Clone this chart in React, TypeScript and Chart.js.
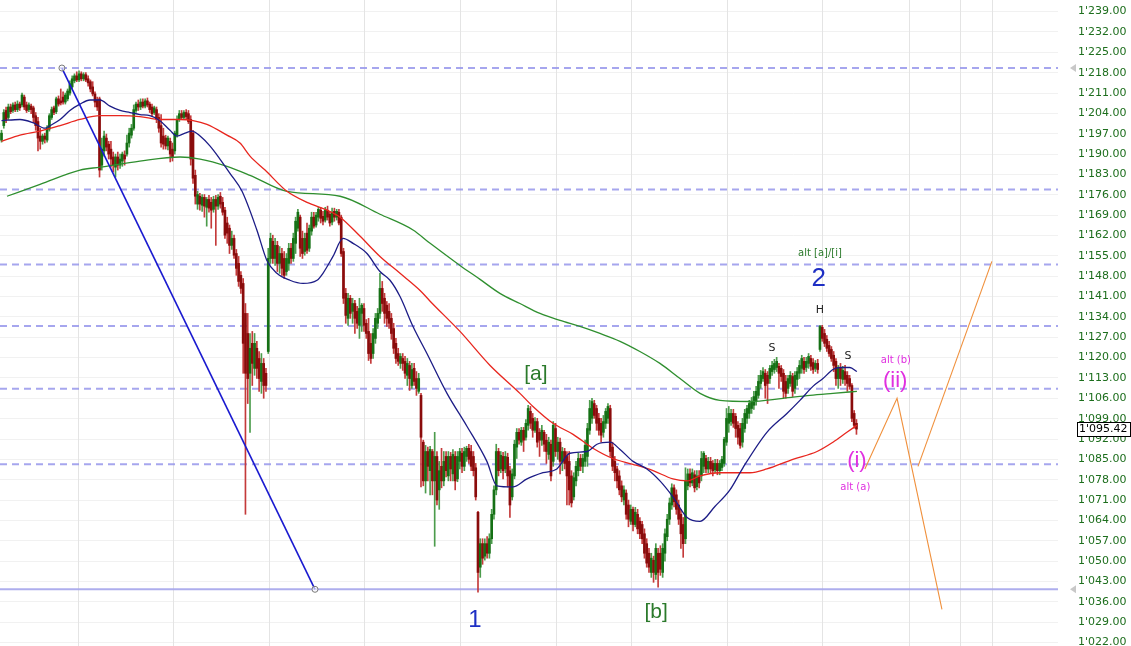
import React, { useEffect, useRef } from "react";
import { Chart, registerables } from "chart.js";
Chart.register(...registerables);

// ---------- DATA ----------
const OPEN = [
1194.8,1199.8,1205.0,1202.6,1206.2,1205.0,1206.9,1205.3,1207.2,1206.9,
1209.6,1206.9,1205.3,1206.5,1205.9,1203.2,1201.2,1196.2,1194.4,1196.2,
1194.8,1198.6,1202.6,1205.9,1204.6,1209.0,1208.3,1209.6,1207.9,1209.0,
1211.0,1213.1,1215.2,1216.9,1215.5,1217.6,1215.9,1217.3,1215.9,1214.9,
1213.1,1210.7,1208.6,1209.0,1186.2,1191.1,1195.5,1193.4,1191.7,1189.0,
1185.5,1189.0,1186.2,1187.6,1189.7,1190.0,1193.8,1196.5,1198.9,1205.0,
1207.2,1206.2,1207.9,1206.5,1208.3,1207.2,1206.2,1204.3,1205.3,1202.6,
1199.8,1196.2,1195.5,1192.8,1194.4,1191.7,1191.1,1196.5,1201.9,1203.9,
1202.6,1204.3,1203.9,1201.9,1197.2,1182.7,1172.8,1175.5,1172.4,1175.1,
1171.7,1174.4,1173.4,1171.0,1174.4,1172.1,1175.5,1173.4,1170.7,1166.3,
1164.5,1158.6,1161.0,1155.8,1152.4,1148.3,1145.5,1135.2,1128.3,1114.6,
1124.9,1116.3,1123.2,1119.7,1111.8,1118.0,1114.6,1122.1,1154.1,1160.0,
1154.1,1158.6,1152.4,1155.8,1154.1,1149.6,1152.4,1157.6,1154.1,1159.3,
1164.5,1168.3,1161.0,1156.5,1162.8,1157.6,1163.5,1168.3,1165.6,1168.3,
1170.7,1168.6,1167.3,1170.7,1169.3,1166.6,1170.3,1168.3,1170.0,1168.3,
1156.5,1142.1,1133.5,1140.4,1135.9,1138.6,1135.9,1131.1,1135.2,1136.9,
1131.8,1129.0,1124.9,1121.4,1126.6,1131.8,1135.2,1143.8,1140.4,1138.0,
1135.9,1133.5,1130.0,1124.9,1121.4,1118.0,1119.7,1118.7,1113.9,1117.3,
1110.4,1116.3,1112.8,1108.4,1107.0,1090.9,1077.6,1087.7,1081.1,1087.7,
1077.6,1086.0,1074.5,1082.6,1077.6,1086.0,1079.3,1086.0,1080.0,1086.0,
1078.3,1084.3,1087.1,1082.6,1086.0,1088.8,1087.7,1086.0,1082.1,1066.8,
1047.9,1056.0,1051.7,1056.0,1052.7,1057.7,1066.1,1074.5,1087.7,1081.7,
1086.0,1081.7,1085.7,1081.1,1072.1,1079.3,1089.2,1094.3,1090.9,1095.0,
1092.6,1096.7,1101.5,1099.1,1095.0,1098.0,1094.3,1091.6,1094.3,1091.6,
1086.7,1090.2,1084.3,1095.6,1087.7,1090.9,1084.3,1087.7,1086.0,1084.3,
1079.3,1072.1,1077.6,1081.1,1085.3,1082.6,1084.3,1086.0,1095.0,1099.1,
1104.2,1102.5,1099.1,1097.4,1094.3,1097.4,1099.1,1102.5,1089.2,1084.3,
1081.7,1079.3,1075.9,1071.0,1073.4,1069.3,1063.7,1067.8,1062.6,1066.1,
1063.7,1062.6,1059.4,1056.0,1052.7,1046.1,1050.3,1045.4,1052.7,1052.7,
1046.1,1052.7,1058.4,1064.4,1069.3,1075.2,1072.8,1069.3,1066.1,1062.6,
1057.7,1075.9,1080.0,1076.9,1079.7,1075.6,1079.3,1079.3,1082.6,1085.3,
1081.7,1084.3,1083.6,1081.4,1083.6,1081.1,1082.2,1083.6,1090.9,1097.4,
1098.0,1100.8,1099.8,1096.7,1095.6,1090.9,1095.6,1099.1,1100.8,1102.5,
1103.6,1104.9,1107.0,1111.1,1112.8,1114.6,1113.9,1112.8,1115.2,1115.9,
1116.6,1117.0,1116.3,1114.6,1111.8,1109.4,1111.1,1113.5,1109.4,1112.5,
1114.6,1116.3,1118.7,1116.6,1118.0,1119.7,1118.3,1116.3,1118.0,1122.8,
1130.4,1128.3,1126.3,1124.2,1122.8,1120.8,1118.7,1112.8,1116.3,1112.5,
1115.2,1113.9,1112.8,1110.4,1100.8,1097.4
];
const HIGH = [
1198.2,1205.3,1206.2,1207.2,1207.2,1207.6,1207.9,1208.3,1207.9,1211.0,
1210.3,1207.9,1207.6,1207.2,1206.5,1204.3,1202.6,1198.9,1196.9,1197.2,
1199.8,1203.9,1206.2,1206.5,1209.6,1210.0,1212.4,1211.4,1211.0,1212.4,
1215.2,1216.9,1217.6,1218.3,1218.6,1218.3,1218.0,1218.0,1216.9,1215.5,
1214.9,1211.4,1209.6,1209.6,1195.5,1197.9,1196.9,1194.4,1194.4,1190.7,
1190.0,1190.7,1190.0,1190.7,1191.1,1196.5,1198.9,1200.2,1206.9,1207.9,
1208.6,1209.0,1209.0,1209.0,1209.3,1207.9,1207.2,1206.5,1206.2,1203.9,
1203.6,1198.9,1196.5,1196.2,1195.5,1193.8,1197.9,1203.2,1205.0,1205.0,
1205.0,1205.3,1205.0,1203.2,1198.2,1184.5,1177.2,1176.5,1176.1,1176.1,
1175.1,1175.8,1175.1,1175.5,1175.8,1176.1,1176.8,1175.1,1171.7,1168.3,
1165.6,1163.5,1162.1,1157.2,1154.8,1149.6,1147.2,1138.6,1135.2,1128.3,
1129.0,1128.3,1125.6,1122.1,1121.4,1119.7,1116.3,1157.6,1162.8,1162.1,
1161.0,1160.0,1158.2,1157.6,1156.5,1155.8,1159.3,1159.3,1162.8,1168.3,
1171.0,1169.0,1163.5,1162.8,1166.3,1165.6,1170.0,1170.0,1170.0,1171.7,
1171.7,1170.3,1171.7,1172.1,1170.3,1171.4,1171.4,1171.0,1171.0,1169.0,
1157.6,1143.8,1142.1,1141.4,1140.4,1139.7,1137.6,1140.4,1138.6,1138.6,
1133.1,1133.5,1128.3,1130.0,1135.2,1136.9,1149.0,1146.2,1142.1,1139.3,
1138.6,1135.2,1131.8,1126.6,1123.2,1121.4,1121.4,1120.4,1119.7,1118.7,
1118.0,1118.0,1115.2,1114.6,1107.7,1091.6,1089.8,1089.2,1089.5,1088.4,
1094.3,1087.7,1084.3,1088.8,1087.7,1087.7,1087.7,1087.4,1088.4,1087.7,
1087.7,1088.8,1088.8,1089.2,1089.5,1090.2,1089.8,1087.7,1083.6,1067.1,
1057.7,1057.7,1057.7,1058.4,1059.4,1067.8,1075.9,1090.2,1088.8,1087.7,
1087.4,1087.7,1087.1,1082.6,1081.7,1091.6,1095.6,1095.6,1096.0,1096.0,
1098.7,1103.6,1103.2,1100.8,1099.4,1099.1,1095.6,1096.7,1095.0,1093.6,
1092.6,1091.6,1098.0,1097.4,1092.6,1092.3,1089.1,1088.8,1087.7,1087.7,
1081.1,1080.4,1084.3,1087.1,1086.7,1086.7,1091.6,1097.4,1105.3,1106.0,
1105.3,1103.6,1100.8,1099.1,1100.1,1102.5,1104.2,1103.6,1090.9,1086.0,
1082.6,1081.1,1077.6,1075.9,1074.5,1071.0,1069.3,1068.6,1068.5,1067.8,
1065.0,1063.7,1061.1,1057.7,1054.4,1052.7,1051.7,1056.0,1054.4,1055.3,
1056.0,1061.1,1066.1,1071.7,1076.6,1076.2,1074.5,1071.0,1067.8,1065.0,
1082.1,1081.7,1081.7,1081.7,1081.1,1081.1,1081.1,1087.7,1087.7,1086.4,
1085.7,1085.7,1084.6,1085.0,1085.0,1084.6,1086.0,1092.6,1102.5,1103.2,
1102.2,1102.2,1100.8,1098.0,1097.4,1099.1,1102.2,1103.6,1105.3,1106.3,
1108.4,1110.1,1113.9,1115.6,1116.6,1115.9,1115.2,1117.3,1118.7,1119.4,
1120.1,1118.0,1117.3,1115.9,1113.9,1113.9,1115.2,1114.6,1115.2,1116.6,
1119.0,1120.8,1120.1,1120.1,1121.4,1120.8,1119.7,1119.0,1119.4,1131.1,
1131.1,1129.7,1127.6,1125.6,1123.8,1122.1,1119.7,1117.3,1118.0,1117.0,
1117.3,1115.2,1113.9,1111.1,1101.8,1098.7
];
const LOW = [
1194.1,1198.9,1200.8,1201.9,1203.9,1204.3,1204.6,1204.6,1205.0,1206.2,
1205.3,1204.3,1204.6,1203.9,1200.8,1198.2,1191.1,1191.7,1193.4,1193.8,
1194.1,1197.9,1201.9,1203.6,1203.9,1206.5,1206.9,1207.2,1207.2,1208.3,
1210.3,1212.4,1214.5,1214.9,1214.9,1215.2,1215.2,1214.9,1213.4,1211.4,
1210.0,1206.2,1205.0,1182.1,1184.5,1189.3,1191.1,1188.3,1185.5,1183.8,
1182.1,1184.5,1185.1,1185.8,1186.2,1189.3,1192.4,1195.5,1198.2,1204.3,
1205.0,1205.3,1205.9,1205.9,1206.2,1204.3,1203.2,1203.6,1200.8,1197.5,
1192.4,1191.7,1191.7,1191.4,1187.3,1187.6,1190.0,1195.8,1201.2,1201.9,
1201.9,1201.9,1200.5,1186.2,1179.9,1172.8,1171.0,1170.7,1170.3,1168.3,
1165.2,1170.0,1164.5,1170.0,1158.6,1171.0,1171.4,1169.0,1161.0,1159.3,
1155.8,1157.2,1154.1,1148.3,1144.5,1142.1,1114.6,1066.1,1104.2,1094.3,
1110.4,1113.9,1112.8,1108.4,1107.7,1106.0,1108.4,1121.4,1152.4,1152.4,
1151.7,1149.6,1149.0,1148.3,1147.2,1148.3,1150.0,1152.4,1153.1,1155.8,
1163.5,1154.8,1154.1,1155.2,1155.8,1156.5,1162.1,1164.5,1164.9,1166.9,
1166.3,1165.6,1166.6,1167.3,1165.2,1165.6,1166.9,1167.3,1165.6,1154.8,
1138.6,1131.8,1131.1,1133.5,1131.8,1128.3,1130.0,1126.6,1129.0,1129.0,
1126.6,1119.0,1118.0,1119.7,1124.9,1130.0,1133.5,1135.9,1131.8,1130.7,
1130.0,1126.3,1121.4,1118.0,1117.3,1116.3,1115.6,1112.8,1110.4,1108.7,
1109.4,1110.4,1107.0,1107.7,1075.5,1075.9,1073.4,1077.6,1072.8,1072.8,
1055.1,1069.3,1067.8,1075.2,1075.9,1079.0,1077.6,1077.6,1077.6,1074.5,
1077.3,1081.7,1080.4,1081.1,1084.3,1083.6,1081.1,1079.3,1071.0,1039.3,
1044.4,1048.9,1050.3,1051.0,1051.0,1056.0,1064.4,1072.8,1079.3,1080.4,
1078.3,1080.4,1075.5,1065.0,1071.0,1078.3,1085.3,1090.2,1089.8,1087.7,
1091.6,1095.0,1095.6,1092.6,1094.3,1089.2,1086.0,1089.8,1087.7,1083.6,
1085.0,1077.6,1082.6,1086.0,1085.0,1080.0,1081.1,1081.7,1069.3,1069.3,
1068.6,1071.0,1075.9,1079.3,1081.1,1080.4,1082.6,1082.6,1093.6,1097.4,
1099.1,1095.0,1093.3,1090.9,1092.6,1095.6,1097.4,1086.0,1081.1,1077.6,
1075.2,1072.8,1070.4,1069.3,1064.4,1061.8,1062.6,1060.4,1061.8,1059.4,
1057.7,1056.0,1051.0,1047.9,1046.1,1044.4,1042.7,1043.7,1041.0,1045.1,
1044.4,1050.0,1057.0,1062.6,1067.8,1068.6,1066.1,1062.6,1054.4,1051.3,
1056.0,1074.5,1075.5,1075.9,1073.8,1074.5,1075.2,1077.6,1080.4,1080.4,
1080.4,1080.4,1079.3,1080.4,1079.7,1079.7,1081.1,1082.6,1089.8,1094.3,
1096.7,1096.0,1092.6,1090.2,1088.8,1089.2,1094.3,1097.4,1099.1,1100.8,
1102.2,1103.6,1106.0,1109.4,1111.8,1106.0,1104.2,1111.1,1113.9,1114.6,
1115.2,1109.4,1111.8,1106.0,1106.0,1107.7,1110.1,1106.6,1107.7,1110.4,
1112.8,1114.6,1114.6,1115.2,1116.3,1115.6,1114.6,1115.2,1114.6,1122.1,
1125.6,1123.8,1122.1,1120.4,1118.7,1115.2,1110.4,1109.4,1110.4,1111.1,
1110.4,1108.4,1109.1,1098.0,1095.7,1093.6
];
const CLOSE = [
1197.2,1204.3,1201.9,1206.2,1204.6,1206.9,1205.3,1207.2,1205.9,1210.3,
1206.2,1205.0,1206.9,1205.3,1202.6,1199.8,1195.5,1194.4,1196.2,1195.1,
1198.9,1203.2,1205.3,1204.3,1209.0,1207.2,1207.6,1207.9,1210.3,1211.7,
1214.2,1215.9,1216.9,1215.5,1217.6,1215.9,1217.3,1215.5,1214.5,1212.4,
1210.7,1207.9,1206.2,1184.5,1191.7,1196.2,1192.4,1190.0,1188.3,1186.2,
1189.0,1186.2,1188.3,1190.0,1188.3,1193.8,1197.2,1198.9,1205.3,1207.2,
1206.2,1207.9,1206.5,1208.3,1206.9,1205.3,1203.9,1205.9,1201.9,1198.9,
1193.8,1193.4,1192.8,1195.5,1190.0,1189.0,1197.2,1201.9,1203.9,1202.6,
1204.3,1202.9,1201.2,1188.3,1181.7,1175.5,1176.1,1172.8,1175.1,1172.1,
1174.4,1171.4,1170.7,1174.4,1172.1,1175.1,1172.8,1170.0,1162.1,1162.8,
1158.6,1161.0,1155.2,1150.7,1146.2,1143.8,1124.9,1114.6,1112.8,1123.2,
1118.0,1124.9,1116.3,1112.8,1118.0,1110.4,1110.4,1154.1,1161.0,1154.1,
1158.6,1152.4,1155.8,1150.7,1148.3,1154.1,1157.6,1154.1,1161.0,1166.9,
1170.0,1157.6,1155.8,1161.0,1156.9,1164.5,1168.3,1165.2,1169.0,1171.0,
1167.9,1166.9,1170.7,1168.3,1166.3,1170.0,1168.3,1170.3,1166.3,1155.8,
1140.4,1134.5,1140.4,1135.2,1138.6,1133.5,1131.8,1136.9,1138.0,1131.1,
1128.3,1121.4,1119.7,1128.3,1133.5,1135.2,1143.8,1138.6,1135.2,1133.5,
1131.8,1128.3,1123.2,1119.7,1118.7,1120.4,1118.0,1114.6,1118.0,1112.8,
1115.9,1111.8,1109.4,1112.8,1092.6,1077.6,1087.7,1082.6,1088.4,1077.6,
1086.0,1071.0,1081.1,1077.6,1084.3,1081.1,1086.0,1081.7,1086.7,1077.6,
1086.0,1087.7,1082.6,1087.7,1088.8,1085.0,1082.6,1081.1,1072.1,1046.1,
1056.0,1051.0,1056.0,1052.7,1057.7,1066.1,1074.5,1087.7,1081.1,1086.4,
1081.1,1086.0,1079.3,1069.3,1080.0,1090.2,1094.3,1091.6,1095.0,1091.6,
1097.4,1102.5,1097.4,1095.0,1098.0,1090.9,1091.6,1095.0,1090.2,1087.7,
1090.9,1079.3,1096.7,1087.7,1090.9,1084.3,1087.7,1083.6,1079.3,1074.5,
1070.0,1078.7,1082.6,1085.3,1082.6,1085.3,1089.8,1095.6,1102.5,1104.9,
1100.1,1097.4,1095.0,1093.3,1098.0,1101.5,1103.2,1087.7,1082.6,1080.4,
1077.6,1074.5,1072.1,1074.5,1066.1,1064.4,1067.8,1062.6,1066.8,1061.1,
1059.4,1057.7,1052.7,1049.3,1047.9,1051.0,1046.1,1054.4,1046.1,1047.2,
1054.4,1059.4,1064.4,1070.0,1075.2,1070.4,1067.8,1064.4,1059.4,1056.0,
1077.6,1080.0,1076.9,1080.4,1075.2,1079.3,1076.9,1085.3,1087.1,1081.7,
1084.3,1081.7,1081.1,1083.6,1081.1,1083.6,1085.0,1091.9,1099.1,1100.8,
1100.8,1097.4,1095.6,1092.6,1089.8,1097.4,1100.8,1102.5,1104.2,1104.9,
1106.6,1108.4,1111.8,1113.9,1115.2,1110.4,1111.1,1116.3,1117.3,1118.0,
1118.7,1114.6,1113.5,1108.4,1107.7,1112.8,1113.9,1108.4,1113.9,1115.2,
1117.3,1119.7,1115.9,1118.7,1120.4,1117.0,1115.9,1118.0,1115.9,1130.7,
1126.6,1124.9,1123.2,1121.4,1119.7,1117.3,1112.8,1116.3,1112.8,1115.6,
1112.5,1111.1,1110.1,1099.1,1096.7,1095.42
];

// moving averages (bar index, price)
const MA_FAST_X = [0,8.1,13.8,19.1,21.3,25.7,30,34.4,38.8,43.2,47.6,52,56.4,60.7,65.1,69.5,73.9,77,80.5,83.6,87.1,91.4,95.8,100.2,105.5,112,116.4,120.8,126.5,132.2,138.4,141,145.4,149.8,154.2,160.3,166,170.4,174.8,180.5,186.6,195.4,204.2,212.9,217.3,224.3,230.5,237.5,243.6,249.3,256.8,261.2,266.9,271.3,277,283.1,288.8,294.5,300.7,306.4,312.9,319.5,325.2,335.7,344.5,350.2,355.9,360.3,364.7,367.8,372.1,375.2];
const MA_FAST_Y = [1201.5,1201.9,1200.8,1198.9,1199.8,1201.9,1205.0,1207.2,1208.6,1208.6,1206.5,1205.0,1204.3,1203.6,1203.2,1201.5,1198.2,1196.2,1197.2,1197.9,1196.2,1192.8,1188.3,1183.4,1177.2,1163.9,1153.4,1149.0,1146.6,1145.5,1146.6,1149.0,1154.8,1161.0,1159.3,1155.8,1149.6,1146.6,1141.0,1130.7,1121.4,1107.7,1096.3,1084.3,1075.9,1075.5,1078.3,1080.4,1081.7,1087.1,1087.7,1090.2,1090.9,1088.4,1084.3,1081.7,1077.6,1072.1,1065.0,1063.7,1068.8,1074.5,1082.1,1094.3,1100.8,1105.3,1110.1,1112.8,1115.9,1116.6,1116.6,1115.2];
const MA_MID_X = [0,8.1,16.9,25.7,34.4,43.2,52,60.7,69.5,78.3,84,90.1,98.9,104.6,109,115.6,125.2,134,142.8,148.5,157.2,166,174.8,183.6,188,201.1,214.3,227.4,233.1,241.9,250.7,259.4,268.1,277,285.8,294.5,300.7,306.4,315.1,328.3,335.7,347.1,357.7,364.7,370.8,375.2];
const MA_MID_Y = [1194.4,1196.5,1197.9,1199.8,1201.9,1203.2,1203.2,1202.9,1201.9,1201.9,1201.5,1200.2,1196.5,1193.8,1189.3,1184.5,1177.2,1173.4,1170.7,1168.3,1161.8,1154.8,1149.0,1143.1,1139.4,1129.0,1117.3,1107.7,1103.2,1097.4,1093.6,1088.8,1085.3,1083.3,1081.1,1078.3,1077.6,1079.3,1080.4,1080.4,1081.7,1085.0,1087.7,1090.9,1094.3,1096.7];
const MA_SLOW_X = [2.4,16.9,34.4,43.2,60.7,78.3,87.1,98.9,109,125.2,148.5,166,180.5,188,201.1,209.9,218.6,227.4,236.2,245,253.7,262.5,271.3,280,288.8,297.6,306.4,315.1,328.3,342.8,354.6,364.7,375.2];
const MA_SLOW_Y = [1175.5,1179.6,1184.5,1185.5,1187.6,1189.0,1188.3,1185.8,1182.7,1177.2,1175.5,1169.3,1163.9,1159.3,1151.7,1146.9,1142.1,1138.6,1135.2,1132.8,1130.7,1128.3,1125.6,1122.1,1118.0,1112.8,1107.7,1105.3,1104.9,1106.0,1107.0,1107.7,1108.4];

const Y_TICKS = [1022,1029,1036,1043,1050,1057,1064,1071,1078,1085,1092,1099,1106,1113,1120,1127,1134,1141,1148,1155,1162,1169,1176,1183,1190,1197,1204,1211,1218,1225,1232,1239];
const LEVELS_DASHED = [1219.6, 1177.8, 1152.0, 1130.9, 1109.3, 1083.3];
const LEVEL_SOLID = 1040.3;
const LAST_PRICE = 1095.42;
const TREND_X = [26.5, 137.5];
const TREND_Y = [1219.6, 1040.3];
const PROJ_A_X = [378.7, 392.8, 412.5];
const PROJ_A_Y = [1081.7, 1106.0, 1033.4];
const PROJ_B_X = [402.0, 434.4];
const PROJ_B_Y = [1082.6, 1153.1];
const VGRID_X = [33.6, 75.2, 117.3, 159, 201.1, 243.2, 276.1, 318.2, 359.9, 398, 420.4, 434.4];

const LABELS = [
  { text: "alt [a]/[i]", x: 359, y: 1155.8, color: "#2b7a2b", size: 10, font: "DejaVu Sans" },
  { text: "2", x: 358.5, y: 1147.2, color: "#1e2fc4", size: 26, font: "Liberation Sans" },
  { text: "H", x: 359, y: 1136.2, color: "#222222", size: 11, font: "DejaVu Sans" },
  { text: "S", x: 338, y: 1123.2, color: "#222222", size: 11, font: "DejaVu Sans" },
  { text: "S", x: 371.3, y: 1120.4, color: "#222222", size: 11, font: "DejaVu Sans" },
  { text: "alt (b)", x: 392.3, y: 1119.0, color: "#e030e0", size: 10, font: "DejaVu Sans" },
  { text: "(ii)", x: 392.0, y: 1111.8, color: "#e030e0", size: 22, font: "Liberation Sans" },
  { text: "(i)", x: 375.2, y: 1084.6, color: "#e030e0", size: 22, font: "Liberation Sans" },
  { text: "alt (a)", x: 374.5, y: 1075.2, color: "#e030e0", size: 10, font: "DejaVu Sans" },
  { text: "[a]", x: 234.4, y: 1114.2, color: "#2b7a2b", size: 21, font: "Liberation Sans" },
  { text: "1", x: 207.7, y: 1029.6, color: "#1e2fc4", size: 24, font: "Liberation Sans" },
  { text: "[b]", x: 287.1, y: 1032.5, color: "#2b7a2b", size: 21, font: "Liberation Sans" },
];

const X_MIN = -0.66;
const X_MAX = 463.4;
const Y_MIN = 1020.8;
const Y_MAX = 1243;

function fmt(v: number): string {
  const th = Math.floor(v / 1000);
  const rest = (v - th * 1000).toFixed(2).padStart(6, "0");
  return th + "'" + rest;
}

const pts = (xs: number[], ys: number[]) => xs.map((x, i) => ({ x, y: ys[i] }));

export default function App() {
  const ref = useRef<HTMLCanvasElement | null>(null);
  useEffect(() => {
    document.body.style.margin = "0";
    const canvas = ref.current;
    if (!canvas) return;
    const n = Math.min(OPEN.length, HIGH.length, LOW.length, CLOSE.length);
    const idx = Array.from({ length: n }, (_, i) => i);
    const up = idx.map((i) => CLOSE[i] >= OPEN[i]);
    const bodies = idx.map((i) => ({ x: i, y: [OPEN[i], CLOSE[i]] }));
    const wicks = idx.map((i) => ({ x: i, y: [LOW[i], HIGH[i]] }));

    const levelSets: any[] = LEVELS_DASHED.map((v) => ({
      type: "line",
      data: [{ x: X_MIN, y: v }, { x: X_MAX, y: v }],
      borderColor: "rgba(150,150,235,0.85)",
      borderWidth: 2,
      borderDash: [7, 5],
      pointRadius: 0,
      order: 12,
    }));
    levelSets.push({
      type: "line",
      data: [{ x: X_MIN, y: LEVEL_SOLID }, { x: X_MAX, y: LEVEL_SOLID }],
      borderColor: "rgba(165,165,235,0.9)",
      borderWidth: 2,
      pointRadius: 0,
      order: 12,
    });

    const bgPlugin = {
      id: "bg",
      beforeDraw(c: any) {
        const ctx = c.ctx;
        ctx.save();
        ctx.fillStyle = "#ffffff";
        ctx.fillRect(0, 0, c.width, c.height);
        ctx.restore();
      },
      beforeDatasetsDraw(c: any) {
        const ctx = c.ctx;
        const xs = c.scales.x;
        const a = c.chartArea;
        ctx.save();
        ctx.strokeStyle = "#e4e4e4";
        ctx.lineWidth = 1;
        VGRID_X.forEach((v) => {
          const px = Math.round(xs.getPixelForValue(v)) + 0.5;
          ctx.beginPath();
          ctx.moveTo(px, a.top);
          ctx.lineTo(px, a.bottom);
          ctx.stroke();
        });
        ctx.restore();
      },
      afterDatasetsDraw(c: any) {
        const ctx = c.ctx;
        const xs = c.scales.x;
        const ys = c.scales.y;
        ctx.save();
        ctx.textAlign = "center";
        ctx.textBaseline = "middle";
        LABELS.forEach((l) => {
          ctx.font = `${l.size}px "${l.font}"`;
          ctx.fillStyle = l.color;
          ctx.fillText(l.text, xs.getPixelForValue(l.x), ys.getPixelForValue(l.y));
        });
        ctx.restore();
      },
      afterDraw(c: any) {
        const ctx = c.ctx;
        const ys = c.scales.y;
        const a = c.chartArea;
        ctx.save();
        ctx.fillStyle = "#c8c8c8";
        [LEVELS_DASHED[0], LEVEL_SOLID].forEach((v) => {
          const py = ys.getPixelForValue(v);
          const x0 = a.right + 12;
          ctx.beginPath();
          ctx.moveTo(x0, py);
          ctx.lineTo(x0 + 6, py - 4);
          ctx.lineTo(x0 + 6, py + 4);
          ctx.closePath();
          ctx.fill();
        });
        const py = Math.round(ys.getPixelForValue(LAST_PRICE));
        const bx = a.right + 19;
        ctx.fillStyle = "#ffffff";
        ctx.fillRect(bx, py - 7, 54, 15);
        ctx.strokeStyle = "#000000";
        ctx.lineWidth = 1;
        ctx.strokeRect(bx + 0.5, py - 7 + 0.5, 53, 14);
        ctx.fillStyle = "#000000";
        ctx.font = '11px "DejaVu Sans"';
        ctx.textAlign = "left";
        ctx.textBaseline = "middle";
        ctx.fillText(fmt(LAST_PRICE), bx + 2, py + 0.5);
        ctx.restore();
      },
    };

    const chart = new Chart(canvas, {
      type: "bar",
      data: {
        datasets: [
          ...levelSets,
          {
            type: "bar",
            data: wicks,
            backgroundColor: up.map((u) => (u ? "#4c9c4c" : "#c43a3a")),
            barThickness: 1,
            grouped: false,
            borderWidth: 0,
            order: 10,
          },
          {
            type: "bar",
            data: bodies,
            backgroundColor: up.map((u) => (u ? "#157015" : "#8a0c0c")),
            barThickness: 2,
            grouped: false,
            borderWidth: 0,
            minBarLength: 1,
            order: 9,
          },
          {
            type: "line",
            data: pts(MA_SLOW_X, MA_SLOW_Y),
            borderColor: "#2f8f2f",
            borderWidth: 1.3,
            pointRadius: 0,
            cubicInterpolationMode: "monotone",
            order: 5,
          },
          {
            type: "line",
            data: pts(MA_MID_X, MA_MID_Y),
            borderColor: "#e8261e",
            borderWidth: 1.3,
            pointRadius: 0,
            cubicInterpolationMode: "monotone",
            order: 4,
          },
          {
            type: "line",
            data: pts(MA_FAST_X, MA_FAST_Y),
            borderColor: "#1c1c86",
            borderWidth: 1.3,
            pointRadius: 0,
            cubicInterpolationMode: "monotone",
            order: 3,
          },
          {
            type: "line",
            data: pts(TREND_X, TREND_Y),
            borderColor: "#1a1ad0",
            borderWidth: 1.6,
            pointRadius: 3,
            pointHoverRadius: 3,
            pointBackgroundColor: "rgba(255,255,255,0.6)",
            pointBorderColor: "#7a7a7a",
            pointBorderWidth: 1,
            order: 2,
          },
          {
            type: "line",
            data: pts(PROJ_A_X, PROJ_A_Y),
            borderColor: "#f0903c",
            borderWidth: 1.1,
            pointRadius: 0,
            order: 1,
          },
          {
            type: "line",
            data: pts(PROJ_B_X, PROJ_B_Y),
            borderColor: "#f0903c",
            borderWidth: 1.1,
            pointRadius: 0,
            order: 1,
          },
        ],
      } as any,
      options: {
        animation: false,
        responsive: false,
        maintainAspectRatio: false,
        layout: { padding: 0, autoPadding: false },
        plugins: { legend: { display: false }, tooltip: { enabled: false } },
        scales: {
          x: { type: "linear", min: X_MIN, max: X_MAX, display: false, offset: false },
          y: {
            position: "right",
            min: Y_MIN,
            max: Y_MAX,
            afterBuildTicks: (s: any) => {
              s.ticks = Y_TICKS.map((v) => ({ value: v }));
            },
            afterFit: (s: any) => {
              s.width = 73;
              s.paddingTop = 0;
              s.paddingBottom = 0;
            },
            grid: { color: "#f1f1f1", drawTicks: false },
            border: { display: false },
            ticks: {
              color: "#1d6e1d",
              font: { family: "DejaVu Sans", size: 11 },
              padding: 20,
              callback: (v: any) => fmt(Number(v)),
            },
          },
        },
      } as any,
      plugins: [bgPlugin],
    });
    return () => chart.destroy();
  }, []);
  return (
    <div style={{ width: 1131, height: 646, position: "relative" }}>
      <canvas ref={ref} width={1131} height={646} style={{ display: "block" }} />
    </div>
  );
}
